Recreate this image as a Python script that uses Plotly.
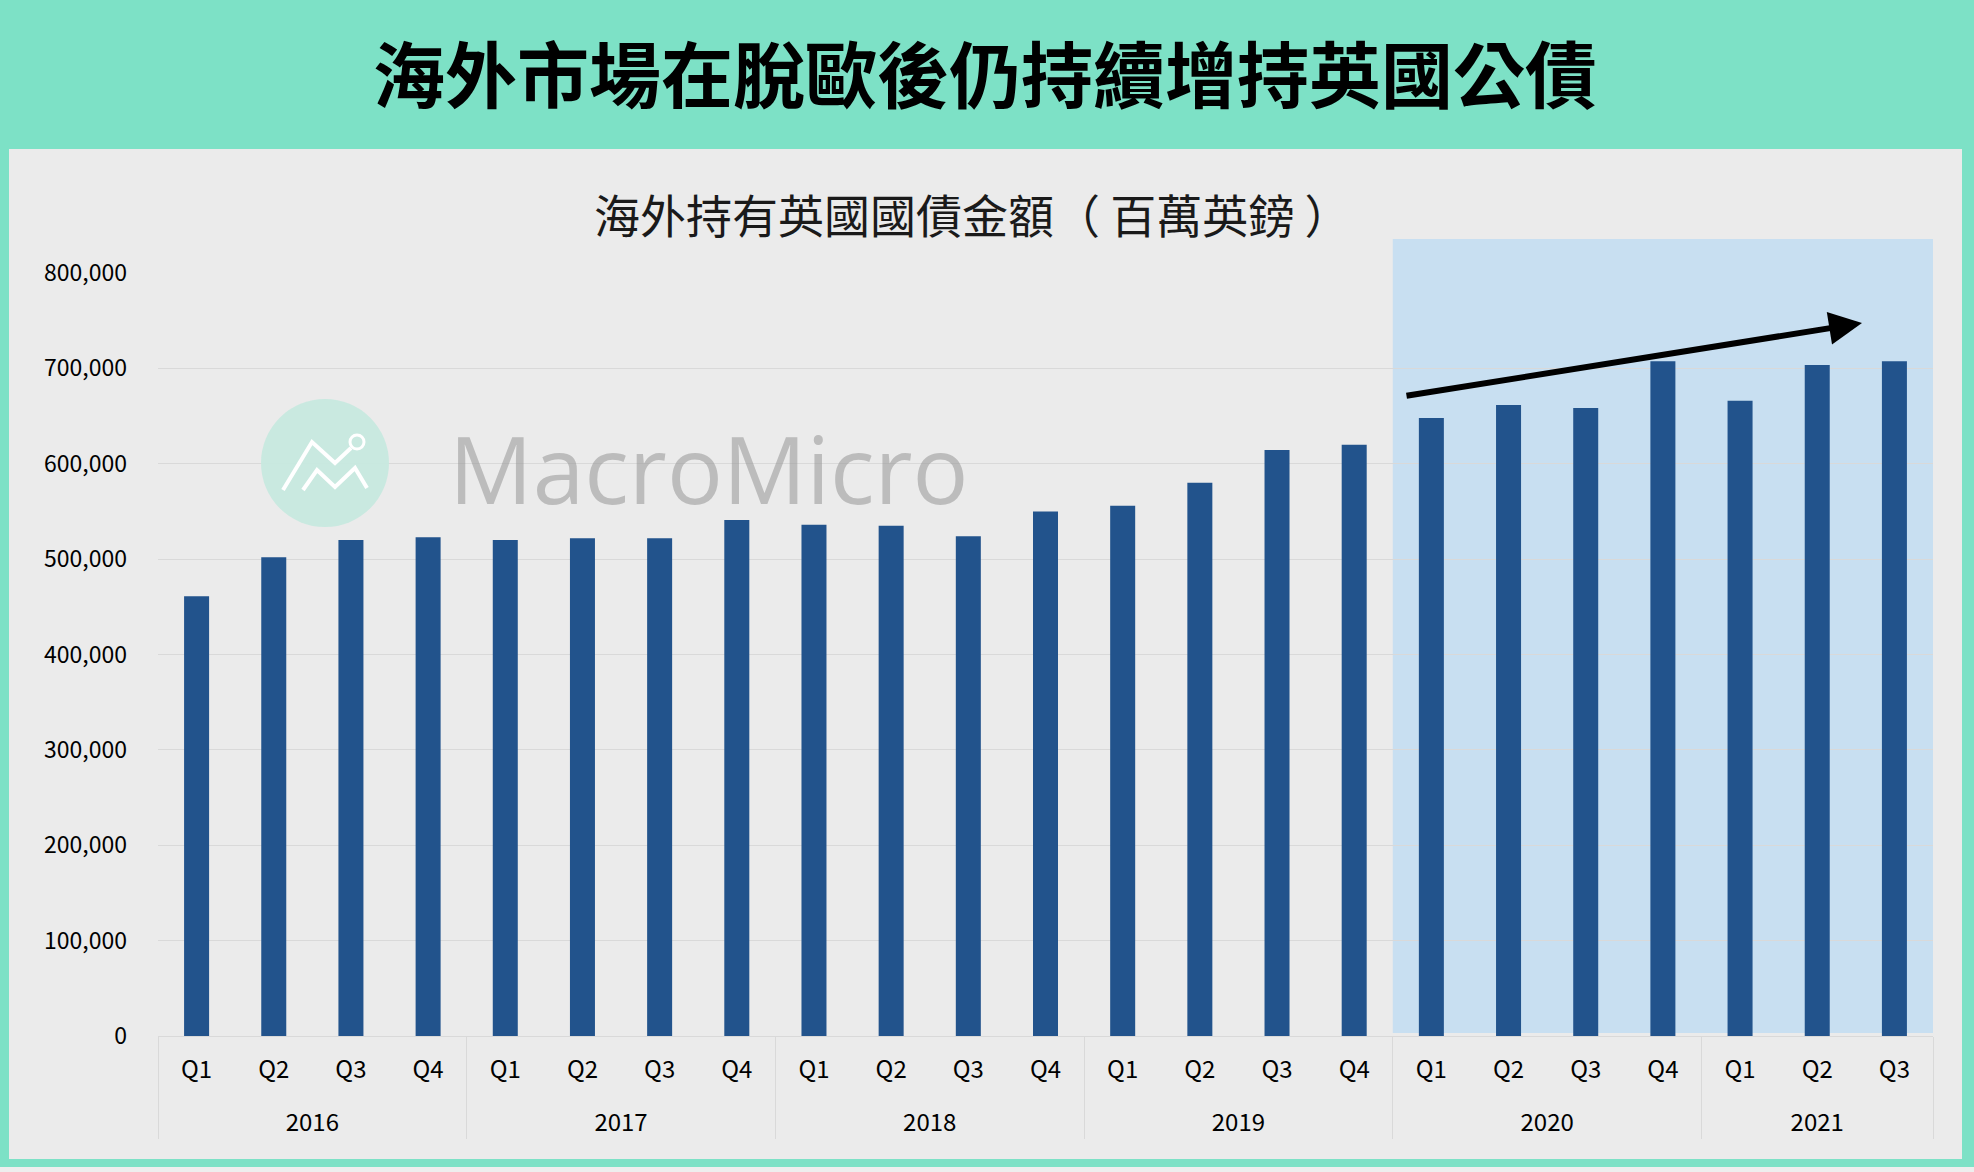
import plotly.graph_objects as go

# ---------------- data ----------------
years = ["2016", "2017", "2018", "2019", "2020", "2021"]
quarters_per_year = [["Q1", "Q2", "Q3", "Q4"]] * 5 + [["Q1", "Q2", "Q3"]]
holdings = [
    461000, 502000, 520000, 523000,   # 2016
    520000, 522000, 522000, 541000,   # 2017
    536000, 535000, 524000, 550000,   # 2018
    556000, 580000, 614500, 620000,   # 2019
    648000, 661500, 658500, 707500,   # 2020
    666000, 703500, 707500,           # 2021
]
main_title = "海外市場在脫歐後仍持續增持英國公債"
chart_title = "海外持有英國國債金額（ 百萬英鎊 ）"
watermark = "MacroMicro"
highlight_from_year = "2020"

# small invisible spacer line under quarter labels to push the year row down
SPACER = "<br><span style='font-size:13px'> </span>"
year_level = [y for y, qs in zip(years, quarters_per_year) for _ in qs]
quarter_level = [q + SPACER for qs in quarters_per_year for q in qs]

# ---------------- layout geometry (pixels) ----------------
W, H = 1974, 1172
L, R, T, B = 158, 41, 273, 136
PW, PH = W - L - R, H - T - B

def px_x(x):
    return (x - L) / PW

def px_y(y):
    return (H - B - y) / PH

TEAL = "#7de1c6"
PANEL = "#ebebeb"
SHADE = "#c8dff1"
BAR = "#22538c"
GRID = "#d9d9d9"
CJK = "Noto Sans CJK TC"

fig = go.Figure()
fig.add_trace(go.Bar(
    x=[year_level, quarter_level],
    y=holdings,
    marker=dict(color=BAR, line=dict(width=0)),
    hoverinfo="y",
))

n_cat = len(holdings)
first_hl = year_level.index(highlight_from_year)

shapes = [
    # grey panel
    dict(type="rect", xref="paper", yref="paper", layer="below",
         x0=px_x(9), x1=px_x(1962), y0=px_y(1159), y1=px_y(149),
         fillcolor=PANEL, line=dict(width=0)),
    # bottom light strip
    dict(type="rect", xref="paper", yref="paper", layer="below",
         x0=px_x(0), x1=px_x(W), y0=px_y(H), y1=px_y(1167),
         fillcolor="#eeeeee", line=dict(width=0)),
    # highlight shading
    dict(type="rect", xref="paper", yref="paper", layer="below",
         x0=first_hl / n_cat, x1=1, y0=px_y(1033), y1=px_y(239),
         fillcolor=SHADE, line=dict(width=0)),
    # watermark circle
    dict(type="circle", xref="paper", yref="paper", layer="above", opacity=0.9,
         x0=px_x(261), x1=px_x(389), y0=px_y(527), y1=px_y(399),
         fillcolor="#c5e9df", line=dict(width=0)),
]

def path(pts):
    return "M " + " L ".join(f"{px_x(a):.5f},{px_y(b):.5f}" for a, b in pts)

icon_lines = [
    [(283, 490), (312, 442), (335, 463), (351, 448)],
    [(303, 490), (317, 470), (335, 487), (355, 468), (367, 488)],
]
for pts in icon_lines:
    shapes.append(dict(type="path", xref="paper", yref="paper", layer="above",
                       path=path(pts), line=dict(color="white", width=4)))
shapes.append(dict(type="circle", xref="paper", yref="paper", layer="above",
                   x0=px_x(350), x1=px_x(364), y0=px_y(449), y1=px_y(435),
                   line=dict(color="white", width=3)))

annotations = [
    dict(text=f"<b>{main_title}</b>", xref="paper", yref="paper",
         x=px_x(985), y=px_y(70), xanchor="center", yanchor="middle",
         showarrow=False, font=dict(family=CJK, size=72, color="#000000")),
    dict(text=chart_title, xref="paper", yref="paper",
         x=px_x(972), y=px_y(213), xanchor="center", yanchor="middle",
         showarrow=False, font=dict(family=CJK, size=46, color="#1a1a1a")),
    dict(text=watermark, xref="paper", yref="paper",
         x=px_x(447), y=px_y(468), xanchor="left", yanchor="middle",
         showarrow=False, font=dict(family="Open Sans", size=93, color="rgba(150,150,150,0.55)")),
    dict(text="", xref="paper", yref="paper",
         x=px_x(1862), y=px_y(323), ax=1405 - 1862, ay=396 - 323,
         showarrow=True, arrowhead=2, arrowsize=1.1, arrowwidth=6,
         arrowcolor="#000000", standoff=0),
]

fig.update_layout(
    width=W, height=H,
    margin=dict(l=L, r=R, t=T, b=B, pad=0),
    paper_bgcolor=TEAL,
    plot_bgcolor="rgba(0,0,0,0)",
    bargap=0.676,
    showlegend=False,
    shapes=shapes,
    annotations=annotations,
    font=dict(family=CJK, color="#000000"),
    xaxis=dict(
        type="multicategory",
        showline=True, linecolor=GRID, linewidth=1,
        showgrid=False, zeroline=False,
        showdividers=True, dividercolor=GRID, dividerwidth=1,
        tickfont=dict(family=CJK, size=24, color="#000000"),
        ticks="",
        ticklabelstandoff=12,
    ),
    yaxis=dict(
        range=[0, 800000], dtick=100000, tickformat=",",
        showgrid=True, gridcolor=GRID, gridwidth=1,
        zeroline=False, showline=False, ticks="",
        ticklabelstandoff=30,
        tickfont=dict(family=CJK, size=23, color="#000000"),
    ),
)

fig.write_html("out.html", config={"displayModeBar": False},
               post_script="document.body.style.margin='0';document.body.style.overflow='hidden';")
